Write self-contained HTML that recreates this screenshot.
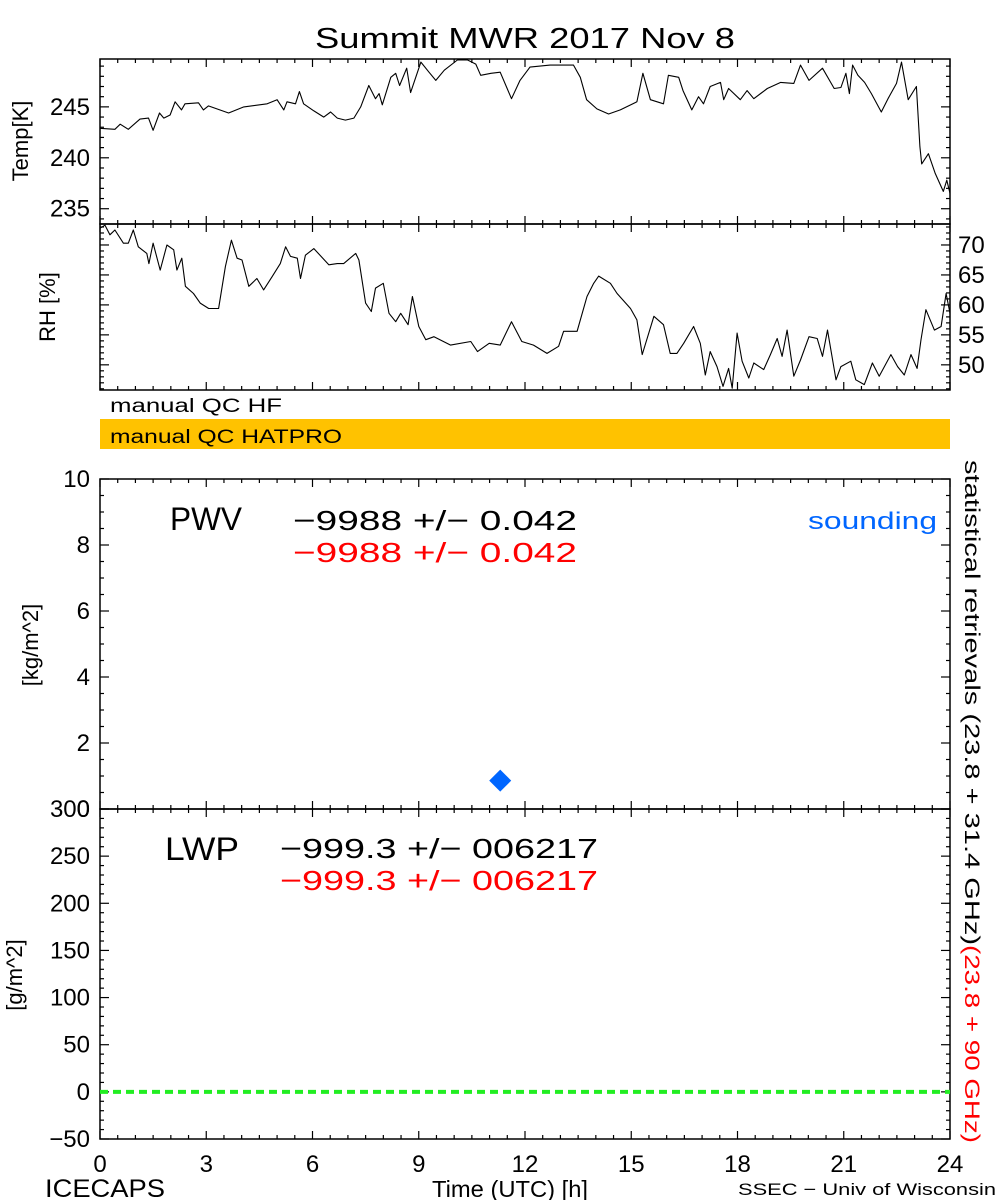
<!DOCTYPE html>
<html><head><meta charset="utf-8"><style>
body{margin:0;background:#fff;}
svg{display:block;font-family:"Liberation Sans",sans-serif;}
</style></head><body>
<svg id="c" width="1000" height="1200" xmlns="http://www.w3.org/2000/svg">
<rect width="1000" height="1200" fill="#fff"/>
<text x="315" y="48" font-size="29" textLength="420" lengthAdjust="spacingAndGlyphs">Summit MWR 2017 Nov  8</text>
<g id="axes"></g>
<g id="marks"></g>
<rect x="100" y="419" width="850" height="30" fill="#FFC200"/>
<text x="110" y="412" font-size="19" textLength="172" lengthAdjust="spacingAndGlyphs">manual QC HF</text>
<text x="110" y="443" font-size="19" textLength="232" lengthAdjust="spacingAndGlyphs">manual QC HATPRO</text>
<text transform="translate(28,141) rotate(-90)" font-size="22" text-anchor="middle">Temp[K]</text>
<text transform="translate(55,307) rotate(-90)" font-size="22" text-anchor="middle">RH [%]</text>
<text transform="translate(38,645) rotate(-90)" font-size="22" text-anchor="middle">[kg/m^2]</text>
<text transform="translate(22,975) rotate(-90)" font-size="22" text-anchor="middle">[g/m^2]</text>
<text x="170" y="530" font-size="32" textLength="72" lengthAdjust="spacingAndGlyphs">PWV</text>
<text x="293" y="530" font-size="28" textLength="284" lengthAdjust="spacingAndGlyphs">−9988 +/− 0.042</text>
<text x="293" y="562" font-size="28" fill="#ff0000" textLength="284" lengthAdjust="spacingAndGlyphs">−9988 +/− 0.042</text>
<text x="808" y="529" font-size="24" fill="#0066ff" textLength="129" lengthAdjust="spacingAndGlyphs">sounding</text>
<text x="165" y="860" font-size="32" textLength="74" lengthAdjust="spacingAndGlyphs">LWP</text>
<text x="280" y="858" font-size="28" textLength="318" lengthAdjust="spacingAndGlyphs">−999.3 +/− 006217</text>
<text x="280" y="890" font-size="28" fill="#ff0000" textLength="318" lengthAdjust="spacingAndGlyphs">−999.3 +/− 006217</text>
<text transform="translate(965,460) rotate(90)" font-size="21"><tspan textLength="485" lengthAdjust="spacingAndGlyphs">statistical retrievals (23.8 + 31.4 GHz)</tspan><tspan fill="#ff0000" textLength="198" lengthAdjust="spacingAndGlyphs">(23.8 + 90 GHz)</tspan></text>
<text x="45" y="1197" font-size="25" textLength="120" lengthAdjust="spacingAndGlyphs">ICECAPS</text>
<text x="432" y="1197" font-size="23" textLength="156" lengthAdjust="spacingAndGlyphs">Time (UTC) [h]</text>
<text x="738" y="1195" font-size="17" textLength="258" lengthAdjust="spacingAndGlyphs">SSEC − Univ of Wisconsin</text>
</svg>
<script>
const tempHours=[0,0.42,0.57,0.8,1.13,1.37,1.5,1.68,1.8,1.98,2.12,2.3,2.4,2.78,2.92,3.06,3.63,4.06,4.72,5.0,5.19,5.28,5.52,5.63,5.75,6.04,6.32,6.51,6.7,6.93,7.17,7.36,7.59,7.78,7.88,7.97,8.21,8.35,8.46,8.66,8.77,9.06,9.29,9.48,9.72,10.09,10.38,10.61,10.75,11.04,11.3,11.62,11.86,12.14,12.71,13.37,13.56,13.74,14.03,14.36,14.69,15.16,15.33,15.54,15.91,16.05,16.34,16.46,16.71,16.9,17.04,17.23,17.52,17.61,17.75,18.08,18.27,18.46,18.84,19.22,19.59,19.78,20.02,20.4,20.73,20.92,21.06,21.16,21.25,21.4,21.59,21.78,22.06,22.25,22.49,22.63,22.82,23.05,23.15,23.2,23.39,23.58,23.81,23.91,24.0];
const tempValues=[242.9,242.8,243.3,242.8,243.8,243.9,242.7,244.4,243.9,244.2,245.5,244.7,245.3,245.4,244.7,245.1,244.4,245.0,245.3,245.7,244.7,245.5,245.3,246.5,245.3,244.6,244.0,244.5,243.9,243.7,243.9,245.0,247.1,245.8,246.3,245.2,247.9,248.3,247.1,248.8,246.4,249.4,248.4,247.6,248.6,249.6,249.6,249.2,248.1,248.3,248.4,245.8,247.6,248.9,249.1,249.1,247.9,245.7,244.8,244.3,244.7,245.5,248.3,245.7,245.3,248.1,247.9,246.6,244.7,246.0,245.3,247.0,247.4,245.7,246.8,245.7,246.6,245.8,246.8,247.4,247.3,249.1,247.6,248.8,246.8,246.9,248.3,246.3,249.1,248.1,247.4,246.3,244.5,245.8,247.3,249.4,245.7,247.0,241.1,239.4,240.4,238.5,236.7,237.8,236.5];
const rhHours=[0,0.14,0.28,0.42,0.66,0.8,0.94,1.08,1.32,1.38,1.5,1.7,1.89,2.08,2.17,2.31,2.41,2.64,2.83,3.07,3.35,3.54,3.71,3.87,4.01,4.2,4.43,4.62,4.86,5.09,5.24,5.38,5.57,5.66,5.8,6.04,6.46,6.7,6.88,7.22,7.31,7.5,7.66,7.78,8.0,8.16,8.35,8.49,8.7,8.82,9.0,9.2,9.43,9.9,10.47,10.66,10.99,11.3,11.62,11.91,12.24,12.62,12.95,13.09,13.47,13.75,13.94,14.08,14.41,14.6,14.98,15.16,15.31,15.64,15.91,16.1,16.29,16.48,16.76,16.95,17.09,17.23,17.42,17.59,17.75,17.85,17.99,18.13,18.32,18.46,18.74,18.93,19.12,19.26,19.4,19.59,19.78,20.02,20.25,20.4,20.54,20.78,20.92,21.2,21.34,21.58,21.81,22.0,22.33,22.52,22.71,22.9,23.07,23.18,23.32,23.56,23.75,23.89,24.0];
const rhValues=[72.8,73.3,71.7,72.5,70.3,70.3,72.5,69.7,68.6,66.9,70.3,65.8,70.0,69.2,65.8,67.8,63.1,61.9,60.3,59.4,59.4,66.4,70.8,67.8,67.5,63.1,64.4,62.5,64.7,66.9,69.7,68.1,67.8,64.4,68.3,69.4,66.7,66.9,66.9,68.6,67.5,60.3,58.9,62.8,63.6,58.6,57.2,58.6,56.7,61.4,56.4,54.2,54.7,53.3,53.9,52.2,53.6,53.3,57.2,53.9,53.3,51.9,53.1,55.6,55.6,61.4,63.6,64.8,63.6,61.9,59.4,57.5,51.7,58.1,56.7,51.9,51.9,53.6,56.4,53.6,48.3,52.2,49.7,46.4,49.4,46.1,55.3,50.6,47.8,50.3,49.2,51.7,54.4,51.4,55.8,48.1,50.8,54.7,54.4,51.4,55.8,47.5,49.7,50.6,47.5,46.7,50.3,48.1,51.7,49.7,48.3,51.7,49.4,54.2,59.2,55.8,56.4,61.9,58.6];
const soundingHours=[11.3];
const soundingPwv=[0.86];
const lwpHours=[0,24];
const lwpValues=[0,0];
const xTicks=[0,3,6,9,12,15,18,21,24];
const tempTicks=[235,240,245];
const rhTicks=[50,55,60,65,70];
const pwvTicks=[0,2,4,6,8,10];
const lwpTicks=[-50,0,50,100,150,200,250,300];

const NS="http://www.w3.org/2000/svg";
const X0=100,X1=950;
const xs=h=>X0+h*(X1-X0)/24;
function lin(d0,d1,r0,r1){return v=>r0+(v-d0)*(r1-r0)/(d1-d0);}
const yT=lin(233.5,249.7,224,59);
const yR=lin(45.8,73.5,390,224);
const yP=lin(0,10,809,479);
const yL=lin(-50,300,1139,809);
const axes=document.getElementById('axes'),marks=document.getElementById('marks');
function mk(tag,attrs,parent){const e=document.createElementNS(NS,tag);for(const k in attrs)e.setAttribute(k,attrs[k]);parent.appendChild(e);return e;}

function panel(name,top,bot,yf,ticks,minorStep,dmin,dmax,labelSide){
  const r=mk('rect',{x:X0,y:top,width:X1-X0,height:bot-top,fill:'none',stroke:'#000','stroke-width':1.5},axes);
  
  
  for(let h=0;h<=24.001;h+=0.5){
    const maj=Math.abs(h/3-Math.round(h/3))<1e-6, L=maj?8:4;
    mk('line',{x1:xs(h),x2:xs(h),y1:top,y2:top+L,stroke:'#000','stroke-width':1.2},axes);
    mk('line',{x1:xs(h),x2:xs(h),y1:bot,y2:bot-L,stroke:'#000','stroke-width':1.2},axes);
  }
  for(let v=Math.ceil(dmin/minorStep)*minorStep;v<=dmax+1e-9;v+=minorStep){
    const y=yf(v); if(y<top-0.5||y>bot+0.5)continue;
    const maj=ticks.some(t=>Math.abs(t-v)<1e-6),L=maj?9:4;
    mk('line',{x1:X0,x2:X0+L,y1:y,y2:y,stroke:'#000','stroke-width':1.2},axes);
    mk('line',{x1:X1,x2:X1-L,y1:y,y2:y,stroke:'#000','stroke-width':1.2},axes);
  }
  ticks.forEach(t=>{
    const tx=mk('text',{x:labelSide==='left'?90:958,y:yf(t)+8,'font-size':24,'text-anchor':labelSide==='left'?'end':'start'},axes);
    tx.textContent=t<0?'−'+Math.abs(t):String(t);
    
    
  });
}
panel('temp',59,224,yT,tempTicks,1,233,250,'left');
panel('rh',224,390,yR,rhTicks,1,45,74,'right');
panel('pwv',479,809,yP,pwvTicks,0.5,0,10,'left');
panel('lwp',809,1139,yL,lwpTicks,10,-50,300,'left');

xTicks.forEach(h=>{
  const t=mk('text',{x:xs(h),y:1172,'font-size':24,'text-anchor':'middle'},axes);
  t.textContent=String(h);
  
  
});

function line(hs,vs,yf,name){
  const p=mk('polyline',{points:hs.map((h,i)=>xs(h).toFixed(1)+','+yf(vs[i]).toFixed(1)).join(' '),fill:'none',stroke:'#000','stroke-width':1.1,'stroke-linejoin':'round'},marks);
  
  
}
line(tempHours,tempValues,yT,'temperature-series');
line(rhHours,rhValues,yR,'rh-series');

soundingHours.forEach((h,i)=>{
  const cx=xs(h),cy=yP(soundingPwv[i]),s=11;
  const d=mk('polygon',{points:`${cx},${cy-s} ${cx+s},${cy} ${cx},${cy+s} ${cx-s},${cy}`,fill:'#0066ff'},marks);
  
  
});

const lw=mk('polyline',{points:lwpHours.map((h,i)=>xs(h)+','+yL(lwpValues[i])).join(' '),fill:'none',stroke:'#22ee22','stroke-width':4,'stroke-dasharray':'8 5'},marks);


</script>
</body></html>
